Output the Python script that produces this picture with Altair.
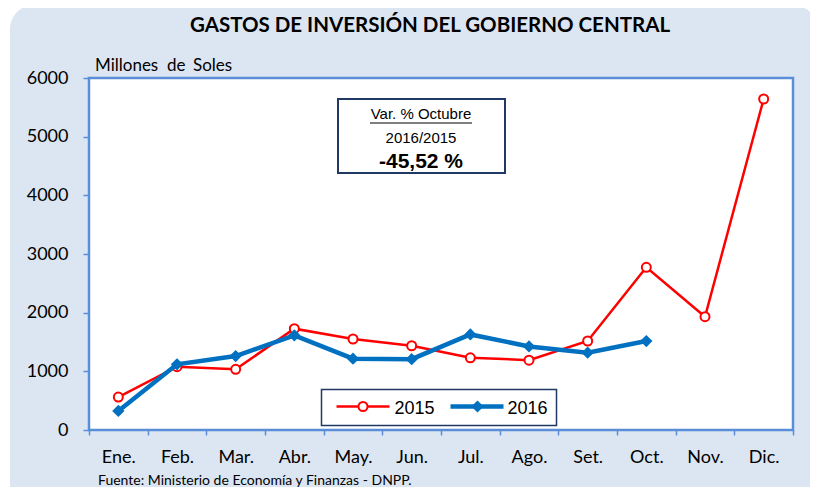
import altair as alt
import pandas as pd

months = ["Ene.", "Feb.", "Mar.", "Abr.", "May.", "Jun.", "Jul.", "Ago.", "Set.", "Oct.", "Nov.", "Dic."]
v2015 = [562, 1079, 1034, 1727, 1551, 1436, 1231, 1191, 1517, 2773, 1931, 5642]
v2016 = [324, 1120, 1261, 1614, 1216, 1208, 1629, 1424, 1318, 1517]
y_ticks = [0, 1000, 2000, 3000, 4000, 5000, 6000]

title_text = "GASTOS DE INVERSIÓN DEL GOBIERNO CENTRAL"
unit_words = ["Millones", "de", "Soles"]
unit_x = [6, 78, 104]
source_text = "Fuente: Ministerio de Economía y Finanzas - DNPP."
box_lines = ["Var. % Octubre", "2016/2015", "-45,52 %"]
series_names = ["2015", "2016"]

RED = "#ff0000"
BLUE = "#0070c0"
AXIS_BLUE = "#5b8ed8"
NAVY = "#1f3864"
BG = "#dce6f2"

W, H = 704, 352

df15 = pd.DataFrame({"month": months, "value": v2015})
df16 = pd.DataFrame({"month": months[:len(v2016)], "value": v2016})

one = alt.Data(values=[{"a": 1}])

x_enc = alt.X(
    "month:N",
    sort=months,
    scale=alt.Scale(type="band", domain=months, paddingInner=0, paddingOuter=0),
    axis=alt.Axis(
        title=None, domain=False, grid=False, tickBand="extent",
        tickColor=AXIS_BLUE, tickSize=5, tickWidth=1.5,
        labelFont="Lato", labelFontSize=18, labelColor="black",
        labelPadding=13, labelAngle=0, zindex=1,
    ),
)
y_enc = alt.Y(
    "value:Q",
    scale=alt.Scale(domain=[0, 6000], nice=False),
    axis=alt.Axis(
        title=None, domain=False, grid=False, values=y_ticks, format="d",
        tickColor=AXIS_BLUE, tickSize=6, tickWidth=1.5,
        labelFont="Lato", labelFontSize=18, labelColor="black",
        labelPadding=15, zindex=1,
    ),
)

bg = alt.Chart(one).mark_rect(fill=BG, cornerRadius=24).encode(
    x=alt.value(-79), x2=alt.value(728), y=alt.value(-73), y2=alt.value(470)
)
plot_bg = alt.Chart(one).mark_rect(fill="white", stroke=AXIS_BLUE, strokeWidth=2.5).encode(
    x=alt.value(0), x2=alt.value(W), y=alt.value(0), y2=alt.value(H)
)

line15 = alt.Chart(df15).mark_line(color=RED, strokeWidth=2.5).encode(x=x_enc, y=y_enc)
pts15 = alt.Chart(df15).mark_point(shape="circle", filled=True, fill="white", stroke=RED,
                                   strokeWidth=2, size=81, opacity=1).encode(x=x_enc, y=y_enc)
line16 = alt.Chart(df16).mark_line(color=BLUE, strokeWidth=4.5).encode(x=x_enc, y=y_enc)
pts16 = alt.Chart(df16).mark_point(shape="diamond", filled=True, color=BLUE,
                                   size=150, opacity=1).encode(x=x_enc, y=y_enc)

# annotation box
ann_box = alt.Chart(one).mark_rect(fill="white", stroke=NAVY, strokeWidth=2).encode(
    x=alt.value(249), x2=alt.value(416), y=alt.value(21), y2=alt.value(95)
)
ann1 = alt.Chart(one).mark_text(font="Liberation Sans", fontSize=15, align="center",
                                baseline="alphabetic", color="black").encode(
    x=alt.value(332), y=alt.value(41), text=alt.value(box_lines[0]))
ann_ul = alt.Chart(one).mark_rule(color="black", strokeWidth=1.2).encode(
    x=alt.value(281), x2=alt.value(383), y=alt.value(45))
ann2 = alt.Chart(one).mark_text(font="Liberation Sans", fontSize=15, align="center",
                                baseline="alphabetic", color="black").encode(
    x=alt.value(332), y=alt.value(64.5), text=alt.value(box_lines[1]))
ann3 = alt.Chart(one).mark_text(font="Liberation Sans", fontSize=21, fontWeight="bold",
                                align="center", baseline="alphabetic", color="black").encode(
    x=alt.value(332), y=alt.value(90), text=alt.value(box_lines[2]))

# legend
leg_box = alt.Chart(one).mark_rect(fill="white", stroke=NAVY, strokeWidth=1.5).encode(
    x=alt.value(232.5), x2=alt.value(467.5), y=alt.value(311.5), y2=alt.value(347.5)
)
leg_l15 = alt.Chart(one).mark_rule(color=RED, strokeWidth=2.5).encode(
    x=alt.value(247.5), x2=alt.value(300.5), y=alt.value(328.5))
leg_p15 = alt.Chart(one).mark_point(shape="circle", filled=True, fill="white", stroke=RED,
                                    strokeWidth=2, size=81, opacity=1).encode(
    x=alt.value(274), y=alt.value(328.5))
leg_t15 = alt.Chart(one).mark_text(font="Liberation Sans", fontSize=18, align="left",
                                   baseline="alphabetic", color="black").encode(
    x=alt.value(305.5), y=alt.value(335.5), text=alt.value(series_names[0]))
leg_l16 = alt.Chart(one).mark_rule(color=BLUE, strokeWidth=4.5).encode(
    x=alt.value(361.5), x2=alt.value(414.5), y=alt.value(328.5))
leg_p16 = alt.Chart(one).mark_point(shape="diamond", filled=True, color=BLUE,
                                    size=150, opacity=1).encode(
    x=alt.value(388.5), y=alt.value(328.5))
leg_t16 = alt.Chart(one).mark_text(font="Liberation Sans", fontSize=18, align="left",
                                   baseline="alphabetic", color="black").encode(
    x=alt.value(418.5), y=alt.value(335.5), text=alt.value(series_names[1]))

# texts
title = alt.Chart(one).mark_text(font="Lato", fontSize=20.5, fontWeight="bold", align="center",
                                 baseline="alphabetic", color="black").encode(
    x=alt.value(341), y=alt.value(-46), text=alt.value(title_text))
unit_layers = [
    alt.Chart(one).mark_text(font="Lato", fontSize=17, align="left",
                             baseline="alphabetic", color="black").encode(
        x=alt.value(px), y=alt.value(-7), text=alt.value(word))
    for word, px in zip(unit_words, unit_x)
]
source = alt.Chart(one).mark_text(font="Lato", fontSize=14, align="left",
                                  baseline="alphabetic", color="black").encode(
    x=alt.value(9), y=alt.value(406.5), text=alt.value(source_text))

chart = alt.layer(
    bg, plot_bg, line15, pts15, line16, pts16,
    ann_box, ann1, ann_ul, ann2, ann3,
    leg_box, leg_l15, leg_p15, leg_t15, leg_l16, leg_p16, leg_t16,
    title, *unit_layers, source,
).properties(
    width=W, height=H,
    autosize=alt.AutoSizeParams(type="none"),
    padding={"left": 81, "top": 70, "right": 17, "bottom": 57},
    background="white",
).configure_view(stroke="transparent")

chart.save("out.html", embed_options={"renderer": "svg", "actions": False})
